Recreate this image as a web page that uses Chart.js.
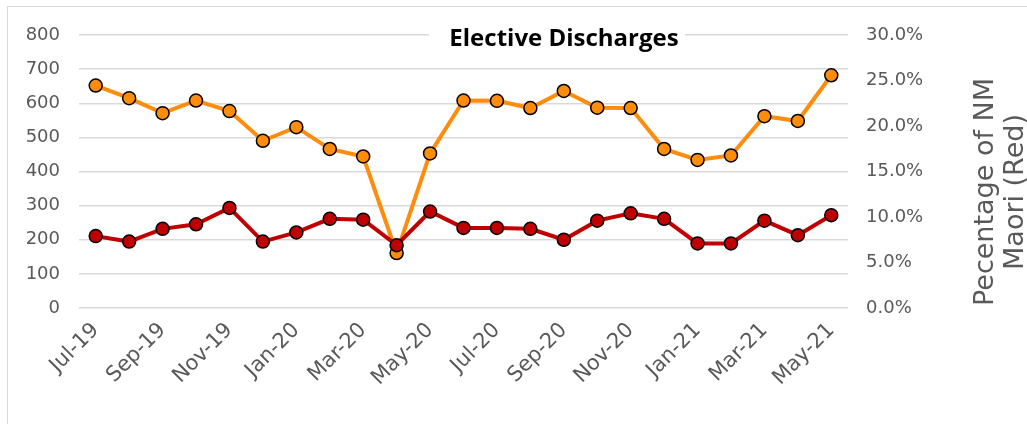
<!DOCTYPE html>
<html>
<head>
<meta charset="utf-8">
<script src="https://cdn.jsdelivr.net/npm/chart.js@4.4.0/dist/chart.umd.min.js"></script>
<style>
  html, body { margin: 0; padding: 0; background: #fff; }
  #wrap { position: relative; width: 1027px; height: 424px; overflow: hidden; }
  #frame { position: absolute; left: 7px; top: 6px; width: 1100px; height: 500px; border: 1px solid #d9d9d9; box-sizing: border-box; }
  canvas { position: absolute; left: 0; top: 0; }
</style>
</head>
<body>
<div id="wrap">
  <div id="frame"></div>
  <canvas id="chart" width="1027" height="424"></canvas>
</div>
<script>
const months = ['Jul-19', 'Aug-19', 'Sep-19', 'Oct-19', 'Nov-19', 'Dec-19', 'Jan-20', 'Feb-20',
  'Mar-20', 'Apr-20', 'May-20', 'Jun-20', 'Jul-20', 'Aug-20', 'Sep-20', 'Oct-20', 'Nov-20',
  'Dec-20', 'Jan-21', 'Feb-21', 'Mar-21', 'Apr-21', 'May-21']

// elective discharges (orange, left axis)
const discharges = [652, 615, 571, 608, 577, 490, 530, 466, 444, 161, 453, 608, 607, 586,
  636, 587, 586, 466, 434, 447, 562, 548, 682]

// percentage of NM Maori (red, right axis)
const maoriPct = [7.9, 7.3, 8.7, 9.2, 11.0, 7.3, 8.3, 9.8, 9.7, 6.9, 10.6, 8.8, 8.8, 8.7,
  7.5, 9.6, 10.4, 9.8, 7.1, 7.1, 9.6, 8.0, 10.2]

const leftTicks = { min: 0, max: 800, step: 100 }
const rightTicks = { min: 0, max: 30, step: 5 }

const grey = '#595959'
const tickFont = { family: 'DejaVu Sans', size: 18 }
const xFont = { family: 'DejaVu Sans', size: 21 }

const overlayText = {
  id: 'overlayText',
  afterDraw (chart) {
    const ctx = chart.ctx
    ctx.save()
    // title with white box behind it
    ctx.fillStyle = '#fff'
    ctx.fillRect(429, 20, 256, 34)
    ctx.font = 'bold 24px "Open Sans"'
    ctx.fillStyle = '#000'
    ctx.textAlign = 'center'
    ctx.textBaseline = 'alphabetic'
    ctx.fillText('Elective Discharges', 564, 46)

    // right axis title, reads bottom to top
    ctx.font = '27px "DejaVu Sans"'
    ctx.fillStyle = grey
    ctx.textBaseline = 'middle'
    ctx.translate(986, 192)
    ctx.rotate(-Math.PI / 2)
    ctx.fillText('Pecentage of NM', 0, 0)
    ctx.fillText('Maori (Red)', 0, 30)
    ctx.restore()
  }
}

new Chart(document.getElementById('chart'), {
  type: 'line',
  data: {
    labels: months,
    datasets: [
      {
        label: 'Elective Discharges',
        data: discharges,
        yAxisID: 'y',
        borderColor: '#FF8C0A',
        backgroundColor: '#FF8C0A',
        borderWidth: 4,
        pointRadius: 6.5,
        pointBorderWidth: 1.5,
        pointBorderColor: '#000',
        pointBackgroundColor: '#FF8C0A',
        tension: 0,
        order: 1
      },
      {
        label: 'Percentage of NM Maori',
        data: maoriPct,
        yAxisID: 'y1',
        borderColor: '#C00000',
        backgroundColor: '#C00000',
        borderWidth: 4,
        pointRadius: 6.5,
        pointBorderWidth: 1.5,
        pointBorderColor: '#000',
        pointBackgroundColor: '#C00000',
        tension: 0,
        order: 0
      }
    ]
  },
  options: {
    responsive: false,
    animation: false,
    layout: { padding: { top: 35, left: 0, right: 0, bottom: 0 } },
    plugins: {
      legend: { display: false },
      tooltip: { enabled: false }
    },
    scales: {
      x: {
        offset: true,
        grid: { display: false, drawTicks: false },
        border: { display: false },
        afterFit: (axis) => { axis.height = 116 },
        ticks: {
          autoSkip: false,
          maxRotation: 45,
          minRotation: 45,
          padding: 10,
          color: grey,
          font: xFont,
          callback: (val, i) => (i % 2 === 0 ? months[i] : '')
        }
      },
      y: {
        position: 'left',
        min: leftTicks.min,
        max: leftTicks.max,
        afterFit: (axis) => { axis.width = 79 },
        grid: { color: '#d9d9d9', lineWidth: 1.5, drawTicks: false },
        border: { display: false },
        ticks: { stepSize: leftTicks.step, color: grey, font: tickFont, padding: 19 }
      },
      y1: {
        position: 'right',
        min: rightTicks.min,
        max: rightTicks.max,
        afterFit: (axis) => { axis.width = 179 },
        grid: { display: false, drawTicks: false },
        border: { display: false },
        ticks: {
          stepSize: rightTicks.step,
          color: grey,
          font: tickFont,
          padding: 18,
          callback: (v) => v.toFixed(1) + '%'
        }
      }
    }
  },
  plugins: [overlayText]
})
</script>
</body>
</html>
